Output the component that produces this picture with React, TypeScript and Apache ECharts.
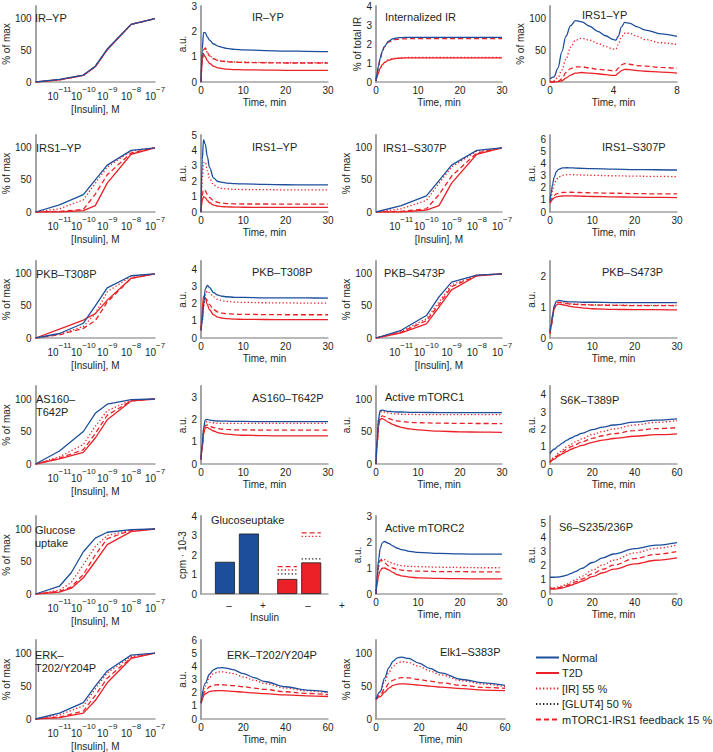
import React, { useEffect, useRef } from 'react';
import * as echarts from 'echarts';

const BLUE = '#1d4e9b';
const RED = '#ec2127';
const BLACK = '#222222';
const AX = '#a3a3a3';
const TXT = '#231f20';
const FONT = '"Liberation Sans", Arial, Helvetica, sans-serif';

const CONC = [-12, -11, -10, -9.5, -9, -8, -7];
const CONC_GU = [-12, -11, -10.5, -10, -9.5, -9, -8, -7];
const T30 = [0, 0.3, 0.6, 1, 1.5, 2, 3, 4, 5, 6, 8, 10, 15, 20, 25, 30];
const T8 = [0, 0.25, 0.5, 0.75, 1, 1.3, 1.6, 2, 2.5, 3, 3.5, 4, 4.15, 4.3, 4.5, 4.7, 5, 5.5, 6, 7, 8];
const T60 = [0, 2, 4, 6, 8, 10, 12, 15, 20, 25, 30, 40, 50, 60];

// series order: [Normal, T2D, [IR] 55 %, mTORC1-IRS1 feedback 15 %]
const IRYP_DOSE = [
  [0, 4, 11, 25, 52, 91, 100],
  [0, 3.5, 10.5, 24, 51, 91, 100],
  [0, 3.5, 10.5, 24.5, 51, 91, 100],
  [0, 3.5, 10.5, 24.5, 51.5, 91, 100],
];
const IRYP_TIME = [
  [0, 1.3, 1.95, 1.95, 1.78, 1.65, 1.5, 1.42, 1.37, 1.33, 1.29, 1.27, 1.24, 1.22, 1.21, 1.2],
  [0, 0.95, 1.1, 1.0, 0.84, 0.74, 0.62, 0.56, 0.53, 0.51, 0.49, 0.48, 0.47, 0.46, 0.46, 0.46],
  [0, 0.85, 1.28, 1.35, 1.17, 1.04, 0.92, 0.86, 0.83, 0.81, 0.79, 0.78, 0.77, 0.76, 0.76, 0.76],
  [0, 0.85, 1.27, 1.34, 1.16, 1.03, 0.91, 0.85, 0.82, 0.8, 0.78, 0.77, 0.76, 0.75, 0.75, 0.75],
];
const INT_IR = [
  [0.05, 0.5, 0.85, 1.25, 1.62, 1.88, 2.15, 2.27, 2.32, 2.34, 2.35, 2.35, 2.35, 2.35, 2.35, 2.35],
  [0.05, 0.3, 0.5, 0.72, 0.9, 1.02, 1.15, 1.21, 1.24, 1.26, 1.27, 1.27, 1.27, 1.27, 1.27, 1.27],
  [0.05, 0.31, 0.51, 0.73, 0.92, 1.04, 1.17, 1.23, 1.26, 1.28, 1.29, 1.29, 1.29, 1.29, 1.29, 1.29],
  [0.05, 0.5, 0.85, 1.23, 1.6, 1.85, 2.1, 2.2, 2.25, 2.27, 2.28, 2.28, 2.28, 2.28, 2.28, 2.28],
];
const IRS1YP_T8 = [
  [5, 8, 22, 48, 72, 89, 97, 95, 88, 80, 73, 67, 66, 72, 87, 94, 93, 87, 82, 76, 72],
  [0, 0, 0.5, 2, 6, 11, 14, 15, 14, 13, 11.5, 10.5, 10.5, 14, 18, 20, 19.5, 18, 17, 15.5, 14],
  [1, 2, 7, 19, 36, 55, 66, 69, 66, 61, 56, 52, 52, 59, 71, 77, 77, 72, 67, 62, 59],
  [0, 0, 1, 5, 15, 21, 24, 24, 22, 20, 19, 18, 18, 22, 27, 29, 28, 26, 25, 23, 21.5],
];
const IRS1YP_DOSE = [
  [0, 11, 27, 50, 73, 96, 100],
  [0, 0, 2, 10, 45, 90, 100],
  [0, 5, 19, 45, 70, 95, 100],
  [0, 1, 4, 28, 58, 92, 100],
];
const IRS1YP_TIME = [
  [0, 3.4, 4.7, 4.4, 3.6, 2.9, 2.2, 1.98, 1.92, 1.88, 1.84, 1.82, 1.79, 1.77, 1.76, 1.76],
  [0, 0.75, 1.0, 0.93, 0.75, 0.6, 0.45, 0.38, 0.35, 0.33, 0.32, 0.31, 0.3, 0.3, 0.3, 0.3],
  [0, 2.1, 3.2, 3.25, 2.7, 2.2, 1.75, 1.6, 1.53, 1.5, 1.47, 1.46, 1.45, 1.44, 1.44, 1.44],
  [0, 1.1, 1.45, 1.38, 1.15, 0.95, 0.72, 0.62, 0.57, 0.55, 0.53, 0.52, 0.52, 0.51, 0.51, 0.51],
];
const IRS1S307_DOSE = [
  [0, 10, 25, 49, 73, 96, 100],
  [0, 0, 3, 10, 45, 90, 100],
  [0, 5, 18, 45, 70, 95, 100],
  [0, 1, 5, 27, 56, 92, 100],
];
const IRS1S307_TIME = [
  [0.9, 1.6, 2.3, 2.9, 3.35, 3.55, 3.66, 3.68, 3.67, 3.65, 3.62, 3.6, 3.56, 3.53, 3.51, 3.49],
  [0.7, 0.9, 1.05, 1.18, 1.26, 1.3, 1.33, 1.34, 1.34, 1.33, 1.31, 1.29, 1.26, 1.23, 1.21, 1.2],
  [0.8, 1.3, 1.8, 2.3, 2.7, 2.9, 3.05, 3.1, 3.1, 3.09, 3.07, 3.05, 3.01, 2.98, 2.96, 2.94],
  [0.8, 1.0, 1.2, 1.38, 1.5, 1.57, 1.62, 1.64, 1.64, 1.63, 1.61, 1.59, 1.56, 1.53, 1.51, 1.5],
];
const PKBT308_DOSE = [
  [0, 7, 23, 50, 78, 97, 100],
  [0, 14, 28, 38, 59, 93, 100],
  [0, 6, 18, 38, 72, 96, 100],
  [0, 5, 15, 27, 56, 93, 100],
];
const PKBT308_TIME = [
  [0.45, 1.0, 1.9, 2.85, 3.08, 2.95, 2.65, 2.5, 2.44, 2.41, 2.38, 2.37, 2.35, 2.34, 2.34, 2.33],
  [0.45, 1.6, 2.45, 2.35, 1.95, 1.65, 1.35, 1.22, 1.16, 1.13, 1.1, 1.09, 1.08, 1.07, 1.07, 1.07],
  [0.45, 0.9, 1.75, 2.5, 2.75, 2.65, 2.4, 2.25, 2.18, 2.14, 2.1, 2.08, 2.06, 2.05, 2.04, 2.04],
  [0.45, 1.2, 2.05, 2.35, 2.2, 1.95, 1.65, 1.52, 1.45, 1.42, 1.39, 1.38, 1.37, 1.36, 1.36, 1.36],
];
const PKBS473_DOSE = [
  [0, 12, 35, 64, 87, 98, 100],
  [0, 8, 22, 48, 75, 97, 100],
  [0, 10, 30, 56, 83, 98, 100],
  [0, 9, 27, 52, 80, 97, 100],
];
const PKBS473_TIME = [
  [0.2, 0.45, 0.75, 1.05, 1.2, 1.22, 1.2, 1.18, 1.17, 1.17, 1.16, 1.16, 1.15, 1.15, 1.15, 1.15],
  [0.15, 0.38, 0.66, 0.95, 1.07, 1.1, 1.08, 1.05, 1.02, 1.0, 0.97, 0.95, 0.93, 0.92, 0.92, 0.91],
  [0.15, 0.4, 0.7, 0.98, 1.13, 1.17, 1.15, 1.13, 1.11, 1.1, 1.09, 1.08, 1.07, 1.06, 1.06, 1.06],
  [0.15, 0.4, 0.7, 0.97, 1.12, 1.16, 1.14, 1.12, 1.1, 1.09, 1.08, 1.07, 1.06, 1.05, 1.05, 1.05],
];
const AS160_DOSE = [
  [0, 20, 50, 78, 92, 99, 100],
  [0, 8, 18, 40, 68, 97, 100],
  [0, 11, 30, 58, 82, 98, 100],
  [0, 9, 22, 47, 75, 97, 100],
];
const AS160_TIME = [
  [0.2, 0.9, 1.6, 1.98, 2.0, 1.97, 1.94, 1.93, 1.92, 1.92, 1.91, 1.91, 1.9, 1.9, 1.9, 1.9],
  [0.2, 0.75, 1.35, 1.62, 1.64, 1.58, 1.48, 1.41, 1.37, 1.34, 1.31, 1.29, 1.27, 1.26, 1.26, 1.26],
  [0.2, 0.85, 1.5, 1.88, 1.9, 1.87, 1.84, 1.83, 1.82, 1.82, 1.82, 1.82, 1.82, 1.82, 1.82, 1.82],
  [0.2, 0.8, 1.4, 1.72, 1.75, 1.7, 1.63, 1.59, 1.56, 1.55, 1.53, 1.53, 1.52, 1.52, 1.52, 1.52],
];
const MTORC1_TIME = [
  [0, 40, 70, 82, 83, 82, 81, 80.5, 80, 80, 79.5, 79.5, 79, 79, 79, 79],
  [0, 33, 58, 69, 70, 68, 64, 61, 58.5, 56.5, 54, 52.5, 50.5, 49.5, 49, 48.8],
  [0, 38, 67, 80, 81, 80, 78.5, 77.5, 77, 76.5, 76.5, 76, 76, 76, 76, 76],
  [0, 35, 62, 72, 74, 73, 70, 68, 66.5, 65.5, 64, 63.5, 62.8, 62.5, 62.3, 62.2],
];
const S6K_TIME = [
  [0.6, 0.85, 1.05, 1.22, 1.38, 1.5, 1.62, 1.77, 1.98, 2.13, 2.25, 2.42, 2.53, 2.6],
  [0.1, 0.28, 0.45, 0.6, 0.73, 0.85, 0.95, 1.07, 1.25, 1.38, 1.47, 1.6, 1.69, 1.74],
  [0.15, 0.4, 0.62, 0.82, 1.0, 1.15, 1.28, 1.45, 1.7, 1.88, 2.02, 2.25, 2.4, 2.5],
  [0.1, 0.32, 0.52, 0.7, 0.86, 1.0, 1.12, 1.27, 1.48, 1.63, 1.75, 1.93, 2.04, 2.1],
];
const GU_DOSE = [
  [0, 12, 33, 65, 86, 95, 99, 100],
  [0, 3, 9, 25, 50, 76, 96, 100],
  [0, 6, 18, 45, 73, 90, 98, 100],
  [0, 4, 11, 30, 60, 85, 98, 100],
];
// Glucose uptake bars (cpm · 10-3), insulin – / +
const GU_NORMAL = [1.65, 3.1];
const GU_T2D = [0.77, 1.62];
const GU_IR55 = [1.23, 2.96];
const GU_FB15 = [1.4, 3.13];
const GU_GLUT4 = [1.03, 1.8];
const GU_LABELS = ['–', '+', '–', '+'];

const MTORC2_TIME = [
  [0, 0.7, 1.3, 1.75, 1.97, 2.02, 1.95, 1.85, 1.77, 1.71, 1.64, 1.6, 1.56, 1.54, 1.53, 1.53],
  [0, 0.4, 0.7, 0.9, 0.99, 1.0, 0.93, 0.83, 0.75, 0.7, 0.65, 0.62, 0.6, 0.59, 0.58, 0.58],
  [0, 0.6, 1.05, 1.3, 1.35, 1.32, 1.25, 1.17, 1.12, 1.09, 1.06, 1.05, 1.03, 1.02, 1.01, 1.01],
  [0, 0.7, 1.15, 1.3, 1.27, 1.2, 1.08, 1.0, 0.95, 0.92, 0.89, 0.88, 0.86, 0.86, 0.85, 0.85],
];
const S6_TIME = [
  [1.18, 1.18, 1.2, 1.25, 1.33, 1.45, 1.58, 1.8, 2.22, 2.55, 2.82, 3.2, 3.45, 3.63],
  [0.35, 0.35, 0.38, 0.43, 0.52, 0.62, 0.73, 0.9, 1.22, 1.5, 1.75, 2.12, 2.38, 2.55],
  [0.45, 0.45, 0.5, 0.58, 0.7, 0.85, 1.0, 1.25, 1.68, 2.05, 2.38, 2.9, 3.22, 3.45],
  [0.4, 0.4, 0.44, 0.5, 0.6, 0.72, 0.85, 1.05, 1.42, 1.75, 2.03, 2.5, 2.8, 3.0],
];
const ERK_DOSE = [
  [0, 9, 25, 50, 73, 97, 100],
  [0, 2, 9, 28, 55, 92, 100],
  [0, 6, 20, 46, 70, 95, 100],
  [0, 3, 12, 36, 62, 93, 100],
];
const ERK_TIME = [
  [1.2, 2.7, 3.4, 3.75, 3.88, 3.9, 3.86, 3.75, 3.45, 3.15, 2.85, 2.45, 2.2, 2.05],
  [1.2, 1.9, 2.08, 2.14, 2.15, 2.15, 2.13, 2.1, 2.04, 1.98, 1.92, 1.83, 1.76, 1.71],
  [1.2, 2.5, 3.15, 3.45, 3.57, 3.58, 3.54, 3.45, 3.2, 2.95, 2.7, 2.35, 2.13, 2.0],
  [1.2, 2.1, 2.45, 2.57, 2.6, 2.6, 2.58, 2.54, 2.45, 2.35, 2.25, 2.07, 1.94, 1.86],
];
const ELK1_TIME = [
  [30, 42, 62, 78, 88, 93, 94, 92, 85, 77, 70, 60, 55, 51],
  [30, 34, 41, 47, 51, 53, 53.5, 53, 51.5, 50, 48.5, 46, 44, 43],
  [30, 40, 57, 71, 80, 85, 87, 86, 80, 73, 67, 58, 53, 49],
  [30, 36, 46, 54, 59, 62, 63, 62.5, 60, 57.5, 55, 51, 48, 46.5],
];

const LEGEND_NAMES = ['Normal', 'T2D', '[IR] 55 %', '[GLUT4] 50 %', 'mTORC1-IRS1 feedback 15 %'];

const DOT: number[] = [1.3, 2.2];
const DASH: number[] = [5, 3];
const STY = [
  { name: 'Normal', color: BLUE, type: 'solid' as any, z: 5 },
  { name: 'T2D', color: RED, type: 'solid' as any, z: 4 },
  { name: '[IR] 55 %', color: RED, type: DOT as any, z: 3 },
  { name: 'mTORC1-IRS1 feedback 15 %', color: RED, type: DASH as any, z: 2 },
];

const COLS = [29, 201, 376, 550];
const WIDTHS = [126, 127, 126, 127];
const ROWS = [[6, 82], [135, 212], [261, 338], [386, 464], [516, 594], [640, 719]];

type Panel = {
  r: number; c: number; kind: 'dose' | 't30' | 't8' | 't60' | 'bar';
  x?: number[]; data?: number[][]; ymax: number; yint: number; yname: string; ygap?: number; w?: number;
  title: string; tx: number; ty: number;
};

const PANELS: Panel[] = [
  { r: 0, c: 0, kind: 'dose', x: CONC, data: IRYP_DOSE, ymax: 120, yint: 50, yname: '% of max', title: 'IR–YP', tx: 35, ty: 18 },
  { r: 0, c: 1, kind: 't30', x: T30, data: IRYP_TIME, ymax: 3, yint: 1, yname: 'a.u.', title: 'IR–YP', tx: 252, ty: 17 },
  { r: 0, c: 2, kind: 't30', x: T30, data: INT_IR, ymax: 4, yint: 1, yname: '% of total IR', title: 'Internalized IR', tx: 385, ty: 17 },
  { r: 0, c: 3, kind: 't8', x: T8, data: IRS1YP_T8, ymax: 120, yint: 50, yname: '% of max', title: 'IRS1–YP', tx: 582, ty: 15 },
  { r: 1, c: 0, kind: 'dose', x: CONC, data: IRS1YP_DOSE, ymax: 120, yint: 50, yname: '% of max', title: 'IRS1–YP', tx: 36, ty: 148 },
  { r: 1, c: 1, kind: 't30', x: T30, data: IRS1YP_TIME, ymax: 5, yint: 1, yname: 'a.u.', title: 'IRS1–YP', tx: 252, ty: 147 },
  { r: 1, c: 2, kind: 'dose', x: CONC, data: IRS1S307_DOSE, ymax: 120, yint: 50, yname: '% of max', title: 'IRS1–S307P', tx: 383, ty: 148 },
  { r: 1, c: 3, kind: 't30', x: T30, data: IRS1S307_TIME, ymax: 6.4, yint: 1, yname: 'a.u.', title: 'IRS1–S307P', tx: 602, ty: 147 },
  { r: 2, c: 0, kind: 'dose', x: CONC, data: PKBT308_DOSE, ymax: 120, yint: 50, yname: '% of max', title: 'PKB–T308P', tx: 36, ty: 274 },
  { r: 2, c: 1, kind: 't30', x: T30, data: PKBT308_TIME, ymax: 4.5, yint: 1, yname: 'a.u.', title: 'PKB–T308P', tx: 252, ty: 272 },
  { r: 2, c: 2, kind: 'dose', x: CONC, data: PKBS473_DOSE, ymax: 120, yint: 50, yname: '% of max', title: 'PKB–S473P', tx: 384, ty: 273 },
  { r: 2, c: 3, kind: 't30', x: T30, data: PKBS473_TIME, ymax: 2.5, yint: 1, yname: 'a.u.', title: 'PKB–S473P', tx: 602, ty: 272 },
  { r: 3, c: 0, kind: 'dose', x: CONC, data: AS160_DOSE, ymax: 120, yint: 50, yname: '% of max', title: 'AS160–\nT642P', tx: 36, ty: 405.5 },
  { r: 3, c: 1, kind: 't30', x: T30, data: AS160_TIME, ymax: 3.5, yint: 1, yname: 'a.u.', title: 'AS160–T642P', tx: 252, ty: 398 },
  { r: 3, c: 2, kind: 't30', x: T30, data: MTORC1_TIME, ymax: 120, yint: 50, yname: 'a.u.', title: 'Active mTORC1', tx: 385, ty: 397 },
  { r: 3, c: 3, kind: 't60', x: T60, data: S6K_TIME, ymax: 4.5, yint: 1, yname: 'a.u.', title: 'S6K–T389P', tx: 560, ty: 400 },
  { r: 4, c: 0, kind: 'dose', x: CONC_GU, data: GU_DOSE, ymax: 120, yint: 50, yname: '% of max', title: 'Glucose\nuptake', tx: 35, ty: 536.5 },
  { r: 4, c: 1, kind: 'bar', ymax: 4, yint: 1, yname: 'cpm · 10-3', ygap: 9, title: 'Glucoseuptake', tx: 211, ty: 520 },
  { r: 4, c: 2, kind: 't30', x: T30, data: MTORC2_TIME, ymax: 3, yint: 1, yname: 'a.u.', title: 'Active mTORC2', tx: 385, ty: 528 },
  { r: 4, c: 3, kind: 't60', x: T60, data: S6_TIME, ymax: 5.5, yint: 1, yname: 'a.u.', title: 'S6–S235/236P', tx: 559, ty: 527 },
  { r: 5, c: 0, kind: 'dose', x: CONC, data: ERK_DOSE, ymax: 120, yint: 50, yname: '% of max', title: 'ERK–\nT202/Y204P', tx: 35, ty: 661.5 },
  { r: 5, c: 1, kind: 't60', x: T60, data: ERK_TIME, ymax: 6, yint: 1, yname: 'a.u.', title: 'ERK–T202/Y204P', tx: 227, ty: 655 },
  { r: 5, c: 2, kind: 't60', x: T60, data: ELK1_TIME, ymax: 120, yint: 50, yname: '% of max', w: 129, title: 'Elk1–S383P', tx: 440, ty: 652 },
];

const BAR_X = [1, 2, 3.6, 4.6];
const BAR_HALF = 0.4;
const BAR_XMAX = 5.3;
const BAR_LABEL_PX = [229, 263, 308, 342];

const TITLE_LH = 13;

function isMul(v: number, step: number) {
  const q = v / step;
  return Math.abs(q - Math.round(q)) < 1e-6;
}

function buildOption() {
  const grid: any[] = [];
  const xAxis: any[] = [];
  const yAxis: any[] = [];
  const series: any[] = [];
  const graphic: any[] = [];
  const labelStyle = { fontFamily: FONT, fontSize: 10, color: TXT };

  PANELS.forEach((p, gi) => {
    const [top, bottom] = ROWS[p.r];
    const left = COLS[p.c];
    const width = p.w ?? WIDTHS[p.c];
    grid.push({ left, top, width, height: bottom - top, containLabel: false });

    const big = p.ymax >= 100;
    yAxis.push({
      type: 'value', gridIndex: gi, min: 0, max: p.ymax, interval: p.yint,
      name: p.yname, nameLocation: 'middle', nameRotate: 90,
      nameGap: p.ygap ?? (big ? 17 : 8),
      nameTextStyle: { ...labelStyle },
      axisLine: { show: true, onZero: false, lineStyle: { color: AX, width: 2 } },
      axisTick: { show: false }, splitLine: { show: false },
      axisLabel: { ...labelStyle, margin: 4, formatter: (v: number) => (isMul(v, p.yint) ? String(v) : '') },
    });

    const xBase = {
      type: 'value', gridIndex: gi,
      nameLocation: 'middle',
      nameTextStyle: { ...labelStyle },
      axisLine: { show: true, onZero: false, lineStyle: { color: AX, width: 1.5 } },
      axisTick: { show: false }, splitLine: { show: false },
    };

    if (p.kind === 'dose') {
      xAxis.push({
        ...xBase, min: -12, max: -7, interval: 1, name: '[Insulin], M', nameGap: 22,
        axisLabel: {
          ...labelStyle, margin: 3,
          formatter: (v: number) => (v <= -12 ? '' : `{b|10}{s|−${Math.abs(v)}}`),
          rich: {
            b: { fontFamily: FONT, fontSize: 10, color: TXT, verticalAlign: 'bottom', lineHeight: 16 },
            s: { fontFamily: FONT, fontSize: 8, color: TXT, verticalAlign: 'top', lineHeight: 9 },
          },
        },
      });
    } else if (p.kind === 'bar') {
      xAxis.push({ ...xBase, min: 0, max: BAR_XMAX, name: 'Insulin', nameGap: 18, axisLabel: { show: false } });
    } else {
      const max = p.kind === 't30' ? 30 : p.kind === 't8' ? 8 : 60;
      const interval = p.kind === 't30' ? 10 : p.kind === 't8' ? 4 : 20;
      xAxis.push({
        ...xBase, min: 0, max, interval, name: 'Time, min', nameGap: 15,
        axisLabel: { ...labelStyle, margin: 3, formatter: (v: number) => (isMul(v, interval) ? String(v) : '') },
      });
    }

    if (p.kind === 'bar') {
      const barData = [
        ...GU_NORMAL.map((v, i) => ({ value: [BAR_X[i], v], itemStyle: { color: BLUE } })),
        ...GU_T2D.map((v, i) => ({ value: [BAR_X[2 + i], v], itemStyle: { color: RED } })),
      ];
      series.push({
        type: 'bar', name: 'Glucose uptake', xAxisIndex: gi, yAxisIndex: gi, data: barData,
        barWidth: 20, silent: true,
        itemStyle: { borderColor: '#1a1a1a', borderWidth: 0.8 },
      });
      const seg = (vals: number[]) => {
        const out: any[] = [];
        vals.forEach((v, i) => {
          const cx = BAR_X[2 + i];
          out.push([cx - BAR_HALF, v], [cx + BAR_HALF, v]);
          if (i < vals.length - 1) out.push([cx + BAR_HALF, '-']);
        });
        return out;
      };
      const segs = [
        { name: '[GLUT4] 50 %', vals: GU_GLUT4, color: BLACK, type: DOT },
        { name: '[IR] 55 %', vals: GU_IR55, color: RED, type: DOT },
        { name: 'mTORC1-IRS1 feedback 15 %', vals: GU_FB15, color: RED, type: DASH },
      ];
      segs.forEach((s) => {
        series.push({
          type: 'line', name: s.name, xAxisIndex: gi, yAxisIndex: gi, data: seg(s.vals),
          symbol: 'none', showSymbol: false, connectNulls: false, silent: true,
          lineStyle: { color: s.color, width: 1.3, type: s.type }, itemStyle: { color: s.color },
        });
      });
      GU_LABELS.forEach((t, i) => {
        graphic.push({
          type: 'text', id: 'gul' + i, x: BAR_LABEL_PX[i], y: 605, silent: true,
          style: { text: t, fontFamily: FONT, fontSize: 10, fill: TXT, align: 'center', verticalAlign: 'middle' },
        });
      });
    } else {
      const xs = p.x as number[];
      const order = [3, 2, 1, 0];
      order.forEach((k) => {
        const s = STY[k];
        series.push({
          type: 'line', name: s.name, xAxisIndex: gi, yAxisIndex: gi,
          data: xs.map((x, i) => [x, (p.data as number[][])[k][i]]),
          symbol: 'none', showSymbol: false, silent: true,
          smooth: p.kind === 'dose' ? false : 0.35,
          smoothMonotone: 'x',
          z: s.z,
          lineStyle: { color: s.color, width: 1.3, type: s.type },
          itemStyle: { color: s.color },
        });
      });
    }

    const lines = p.title.split('\n');
    lines.forEach((ln, li) => {
      graphic.push({
        type: 'text', id: `t${gi}_${li}`, silent: true, z: 50,
        x: p.tx,
        y: p.ty - ((lines.length - 1) * TITLE_LH) / 2 + li * TITLE_LH,
        style: { text: ln, fontFamily: FONT, fontSize: 11, fill: TXT, align: 'left', verticalAlign: 'middle' },
      });
    });
  });

  return {
    animation: false,
    backgroundColor: '#ffffff',
    grid, xAxis, yAxis, series, graphic,
    legend: {
      data: LEGEND_NAMES,
      orient: 'vertical', left: 535, top: 652, padding: 0,
      itemWidth: 23, itemHeight: 12, itemGap: 4.5,
      selectedMode: false,
      itemStyle: { opacity: 0 },
      textStyle: { fontFamily: FONT, fontSize: 11, color: TXT, padding: [0, 0, 0, -2] },
    },
  };
}

export default function App() {
  const ref = useRef<HTMLDivElement>(null);
  useEffect(() => {
    if (!ref.current) return;
    const chart = echarts.init(ref.current, null, { renderer: 'svg' });
    chart.setOption(buildOption() as any);
    return () => chart.dispose();
  }, []);
  return (
    <div
      ref={ref}
      style={{ position: 'fixed', left: 0, top: 0, width: 713, height: 752, background: '#fff' }}
    />
  );
}
